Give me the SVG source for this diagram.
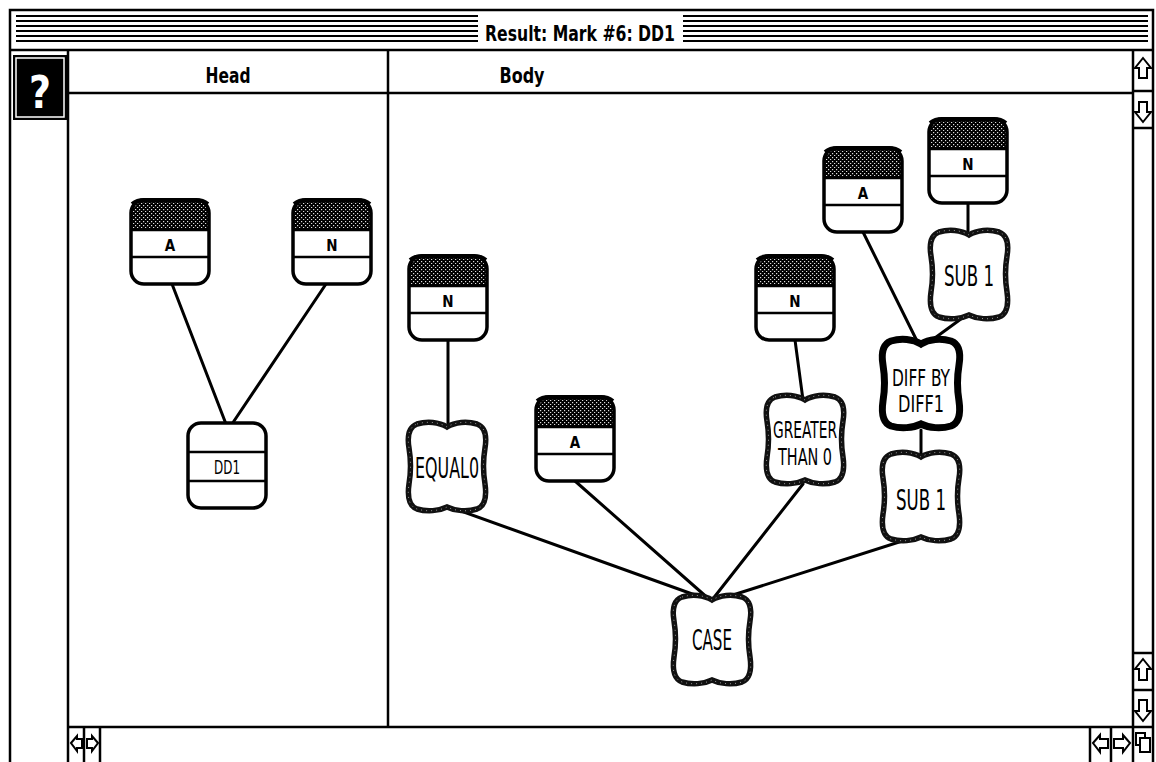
<svg xmlns="http://www.w3.org/2000/svg" xmlns:xlink="http://www.w3.org/1999/xlink" width="1156" height="762" viewBox="0 0 1156 762">
<style>
.frame{fill:none;stroke:#000;stroke-width:2.5}
.ln{stroke:#000;stroke-width:2.5;fill:none}
.stripe{stroke:#000;stroke-width:2}
.edge{stroke:#000;stroke-width:3;fill:none;stroke-linecap:round}
.t{font-family:"DejaVu Sans Condensed","DejaVu Sans",sans-serif;font-stretch:condensed;fill:#000;text-anchor:middle}
.hdr{font-size:22px;font-weight:bold}
.tok{font-size:15px;font-weight:bold}
.lbl{font-size:28px}
.lbl2{font-size:23px}
.arrow{fill:#fff;stroke:#000;stroke-width:2;stroke-linejoin:miter}
</style>
<defs>
<pattern id="stip" width="4" height="4" patternUnits="userSpaceOnUse">
<rect width="4" height="4" fill="#000"/>
<rect x="0" y="1" width="1.2" height="1.2" fill="#ddd"/>
<rect x="2" y="3" width="1.2" height="1.2" fill="#ddd"/>
</pattern>
<g id="token">
<rect x="0" y="0" width="78" height="84" rx="13" fill="#fff"/>
<path d="M0,30 V13 Q0,0 13,0 H65 Q78,0 78,13 V30 Z" fill="url(#stip)"/>
<path d="M1,4 Q6,0 13,0 H65 Q72,0 77,4" stroke="#000" stroke-width="4" fill="none"/>
<line x1="0" y1="30" x2="78" y2="30" class="ln"/>
<line x1="0" y1="57" x2="78" y2="57" class="ln"/>
<rect x="0" y="0" width="78" height="84" rx="13" fill="none" stroke="#000" stroke-width="3.5"/>
</g>
<path id="cloudpath" d="M10,4 C20,1 32,2 40,7 C48,2 60,1 70,4 C78,7 80,16 78,28 C76,40 76,52 78,64 C80,78 78,86 70,89 C60,92 48,91 40,87 C32,91 20,92 10,89 C2,86 0,78 2,64 C4,52 4,40 2,28 C0,16 2,7 10,4 Z"/>
<g id="cloud">
<use xlink:href="#cloudpath" href="#cloudpath" fill="#fff" stroke="#111" stroke-width="5.5"/>
<use xlink:href="#cloudpath" href="#cloudpath" fill="none" stroke="#999" stroke-width="1" stroke-dasharray="1 4"/>
</g>
</defs>
<rect width="1156" height="762" fill="#fff"/>

<g id="window">
<rect x="10" y="10" width="1143" height="760" class="frame"/>
<line x1="10" y1="50" x2="1153" y2="50" class="ln"/>
<g id="stripes">
<path class="stripe" d="M16,16 H478 M16,21 H478 M16,26 H478 M16,31 H478 M16,36 H478 M16,41 H478 M683,16 H1148 M683,21 H1148 M683,26 H1148 M683,31 H1148 M683,36 H1148 M683,41 H1148"/>
</g>
<text x="580" y="41" class="t hdr" textLength="190" lengthAdjust="spacingAndGlyphs">Result: Mark #6: DD1</text>
<line x1="68" y1="50" x2="68" y2="762" class="ln"/>
<line x1="388" y1="50" x2="388" y2="727" class="ln"/>
<line x1="68" y1="93" x2="1133" y2="93" class="ln"/>
<line x1="1133" y1="50" x2="1133" y2="762" class="ln"/>
<line x1="68" y1="727" x2="1153" y2="727" class="ln"/>
<text x="228" y="83" class="t hdr" textLength="45" lengthAdjust="spacingAndGlyphs">Head</text>
<text x="522" y="83" class="t hdr" textLength="45" lengthAdjust="spacingAndGlyphs">Body</text>
</g>

<g id="help">
<rect x="13" y="55" width="54" height="65" fill="#000"/>
<rect x="16" y="58" width="48" height="59" fill="none" stroke="#fff" stroke-width="1.5"/>
<text x="40" y="108" class="t" font-size="44" font-weight="bold" style="fill:#fff" textLength="22" lengthAdjust="spacingAndGlyphs">?</text>
</g>

<g id="scrollbars">
<line x1="1133" y1="91" x2="1153" y2="91" class="ln"/>
<line x1="1133" y1="128" x2="1153" y2="128" class="ln"/>
<path class="arrow" d="M1143,58 L1151,68 L1147,68 L1147,78 L1139,78 L1139,68 L1135,68 Z"/>
<path class="arrow" d="M1143,122 L1151,112 L1147,112 L1147,102 L1139,102 L1139,112 L1135,112 Z"/>
<line x1="1133" y1="653" x2="1153" y2="653" class="ln"/>
<line x1="1133" y1="690" x2="1153" y2="690" class="ln"/>
<path class="arrow" d="M1143,659 L1151,669 L1147,669 L1147,680 L1139,680 L1139,669 L1135,669 Z"/>
<path class="arrow" d="M1143,721 L1151,711 L1147,711 L1147,700 L1139,700 L1139,711 L1135,711 Z"/>
<line x1="84" y1="727" x2="84" y2="762" class="ln"/>
<line x1="100" y1="727" x2="100" y2="762" class="ln"/>
<path class="arrow" d="M71,743 L77,736 L77,739 L82,739 L82,748 L77,748 L77,751 Z"/>
<path class="arrow" d="M98,743 L92,736 L92,739 L87,739 L87,748 L92,748 L92,751 Z"/>
<line x1="1090" y1="727" x2="1090" y2="762" class="ln"/>
<line x1="1111" y1="727" x2="1111" y2="762" class="ln"/>
<path class="arrow" d="M1093,743 L1100,735 L1100,739 L1108,739 L1108,748 L1100,748 L1100,752 Z"/>
<path class="arrow" d="M1130,743 L1123,735 L1123,739 L1114,739 L1114,748 L1123,748 L1123,752 Z"/>
<rect x="1136" y="733" width="9" height="12" fill="#fff" stroke="#000" stroke-width="2"/>
<rect x="1140" y="738" width="10" height="14" fill="#fff" stroke="#000" stroke-width="2"/>
</g>

<g id="connectors">
<line class="edge" x1="172" y1="284" x2="226" y2="424"/>
<line class="edge" x1="326" y1="284" x2="232" y2="424"/>
<line class="edge" x1="448" y1="340" x2="448" y2="428"/>
<line class="edge" x1="447" y1="506" x2="709" y2="600"/>
<line class="edge" x1="575" y1="481" x2="710" y2="600"/>
<line class="edge" x1="803" y1="484" x2="712" y2="600"/>
<line class="edge" x1="918" y1="536" x2="714" y2="601"/>
<line class="edge" x1="795" y1="340" x2="803" y2="400"/>
<line class="edge" x1="862" y1="230" x2="918" y2="343"/>
<line class="edge" x1="968" y1="202" x2="968" y2="236"/>
<line class="edge" x1="965" y1="316" x2="928" y2="343"/>
<line class="edge" x1="921" y1="430" x2="921" y2="458"/>
</g>

<g id="head-a"><use xlink:href="#token" href="#token" x="131" y="200"/><text x="170" y="251" class="t tok">A</text></g>
<g id="head-n"><use xlink:href="#token" href="#token" x="293" y="200"/><text x="332" y="251" class="t tok">N</text></g>
<g id="head-dd1">
<rect x="188" y="423" width="78" height="85" rx="13" fill="#fff" stroke="#000" stroke-width="3.5"/>
<line x1="188" y1="452" x2="266" y2="452" class="ln"/>
<line x1="188" y1="481" x2="266" y2="481" class="ln"/>
<text x="227" y="474" class="t" font-size="19" textLength="26" lengthAdjust="spacingAndGlyphs">DD1</text>
</g>

<g id="body-n1"><use xlink:href="#token" href="#token" x="409" y="256"/><text x="448" y="307" class="t tok">N</text></g>
<g id="body-a1"><use xlink:href="#token" href="#token" x="536" y="397"/><text x="575" y="448" class="t tok">A</text></g>
<g id="body-n2"><use xlink:href="#token" href="#token" x="756" y="256"/><text x="795" y="307" class="t tok">N</text></g>
<g id="body-a2"><use xlink:href="#token" href="#token" x="824" y="148"/><text x="863" y="199" class="t tok">A</text></g>
<g id="body-n3"><use xlink:href="#token" href="#token" x="929" y="119"/><text x="968" y="170" class="t tok">N</text></g>

<g id="equal0"><use xlink:href="#cloud" href="#cloud" transform="translate(407,420)"/><text x="447" y="478" class="t lbl" textLength="64" lengthAdjust="spacingAndGlyphs">EQUAL0</text></g>
<g id="greater"><use xlink:href="#cloud" href="#cloud" transform="translate(765,393)"/>
<text x="805" y="438" class="t lbl2" textLength="64" lengthAdjust="spacingAndGlyphs">GREATER</text>
<text x="805" y="465" class="t lbl2" textLength="54" lengthAdjust="spacingAndGlyphs">THAN 0</text></g>
<g id="sub1-top"><use xlink:href="#cloud" href="#cloud" transform="translate(929,228)"/><text x="969" y="286" class="t lbl" textLength="50" lengthAdjust="spacingAndGlyphs">SUB 1</text></g>
<g id="diff">
<use xlink:href="#cloudpath" href="#cloudpath" transform="translate(881,337)" fill="#fff" stroke="#000" stroke-width="7"/>
<text x="921" y="386" class="t lbl2" textLength="58" lengthAdjust="spacingAndGlyphs">DIFF BY</text>
<text x="921" y="412" class="t lbl2" textLength="46" lengthAdjust="spacingAndGlyphs">DIFF1</text></g>
<g id="sub1-bottom"><use xlink:href="#cloud" href="#cloud" transform="translate(881,450)"/><text x="921" y="510" class="t lbl" textLength="50" lengthAdjust="spacingAndGlyphs">SUB 1</text></g>
<g id="case"><use xlink:href="#cloud" href="#cloud" transform="translate(672,593)"/><text x="712" y="650" class="t lbl" textLength="40" lengthAdjust="spacingAndGlyphs">CASE</text></g>
</svg>
